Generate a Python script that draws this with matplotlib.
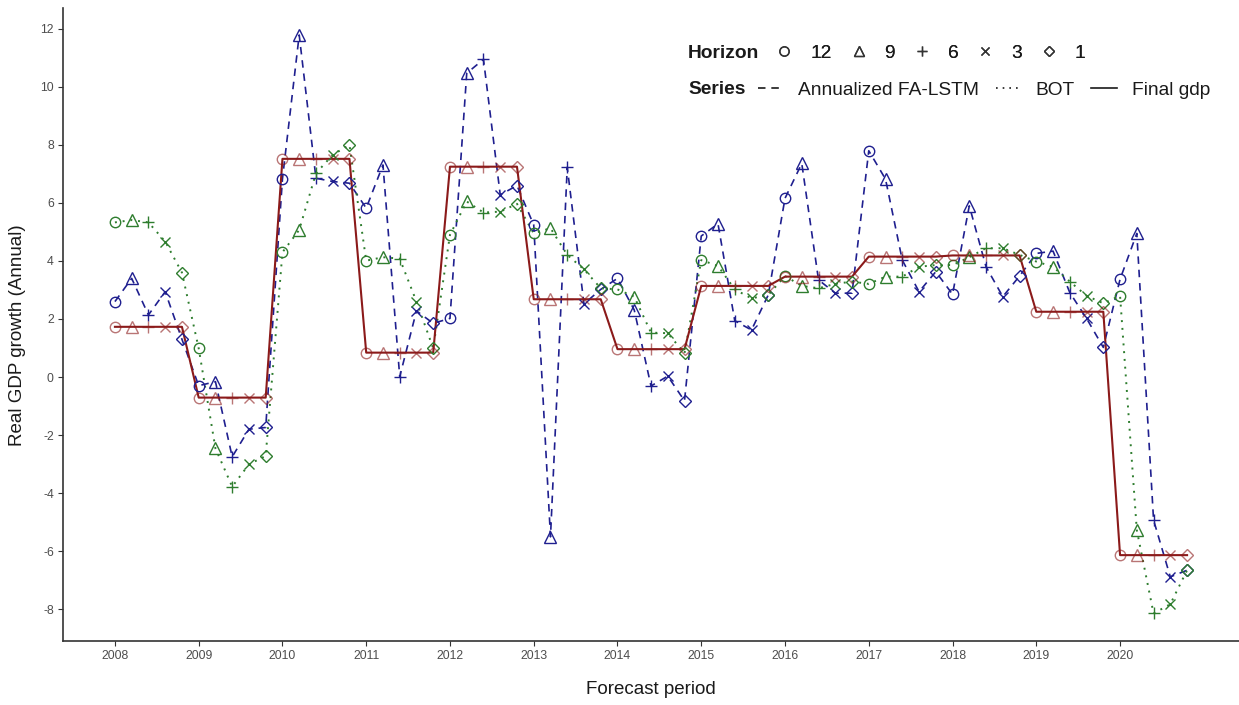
import matplotlib.pyplot as plt
from matplotlib.lines import Line2D
import numpy as np

W, H, DPI = 1239, 705, 100
FONT = 'Liberation Sans'
FONTSIZE_TEXT = 13.5
FONTSIZE_LEGEND = 13.8
FONTSIZE_TICKS = 8.8

plt.rcParams['font.family'] = [FONT, 'DejaVu Sans']
plt.rcParams['axes.unicode_minus'] = False

# forecast years, 5 horizons per year (12, 9, 6, 3, 1 months ahead)
years = list(range(2008, 2021))
horizons = [12, 9, 6, 3, 1]
horizon_step = [0.0, 0.2, 0.4, 0.6, 0.8]
horizon_markers = ['o', '^', '+', 'x', 'D']
marker_sizes = {'o': 7.5, '^': 8.5, '+': 8.5, 'x': 7.0, 'D': 6.3}

fa_lstm = [
    2.60, 3.40, 2.14, 2.94, 1.30,
    -0.30, -0.16, -2.75, -1.80, -1.74,
    6.83, 11.79, 6.85, 6.74, 6.68,
    5.82, 7.31, 0.01, 2.28, 1.85,
    2.02, 10.47, 10.95, 6.28, 6.60,
    5.24, -5.51, 7.23, 2.52, 3.02,
    3.40, 2.31, -0.31, 0.03, -0.82,
    4.86, 5.28, 1.94, 1.62, 2.83,
    6.16, 7.36, 3.35, 2.89, 2.89,
    7.80, 6.82, 4.03, 2.94, 3.63,
    2.85, 5.90, 3.80, 2.77, 3.48,
    4.26, 4.34, 2.91, 2.02, 1.02,
    3.37, 4.95, -4.93, -6.89, -6.66,
]

bot = [
    5.33, 5.41, 5.33, 4.67, 3.60,
    0.99, -2.46, -3.78, -3.01, -2.72,
    4.30, 5.07, 7.02, 7.66, 8.00,
    4.01, 4.13, 4.08, 2.60, 0.99,
    4.90, 6.05, 5.67, 5.70, 5.97,
    4.95, 5.13, 4.21, 3.71, 3.06,
    3.02, 2.77, 1.53, 1.51, 0.82,
    4.03, 3.83, 3.02, 2.71, 2.83,
    3.48, 3.14, 3.06, 3.21, 3.29,
    3.21, 3.46, 3.46, 3.80, 3.86,
    3.86, 4.13, 4.44, 4.44, 4.21,
    3.98, 3.80, 3.29, 2.80, 2.54,
    2.80, -5.28, -8.15, -7.83, -6.66,
]

# annual final gdp, same value for all horizons of a year
final_gdp_annual = [1.73, -0.71, 7.52, 0.84, 7.25, 2.68, 0.96, 3.14, 3.46, 4.15, 4.19, 2.25, -6.14]

period = np.repeat(years, len(horizons)) + np.tile(horizon_step, len(years))
final_gdp = np.repeat(final_gdp_annual, len(horizons))

series = [
    ('Annualized FA-LSTM', fa_lstm, '#1f1f8f', (0, (4.5, 3.5)), 1.2, 1.0),
    ('BOT', bot, '#2e7d2e', (0, (1, 3)), 1.4, 1.0),
    ('Final gdp', final_gdp, '#8b1a1a', '-', 1.5, 0.6),
]

fig = plt.figure(figsize=(W / DPI, H / DPI), dpi=DPI)
ax = fig.add_axes([63 / W, (H - 641) / H, 1 - 63 / W, (641 - 8) / H])

for name, values, color, ls, lw, m_alpha in series:
    values = np.asarray(values)
    ax.plot(period, values, linestyle=ls, linewidth=lw, color=color, zorder=2)
    for j, m in enumerate(horizon_markers):
        idx = np.arange(j, len(period), len(horizons))
        ax.plot(period[idx], values[idx], linestyle='none', marker=m, markersize=marker_sizes[m],
                markerfacecolor='none', markeredgecolor=color, markeredgewidth=1.0,
                alpha=m_alpha, zorder=3)

ax.set_xlim(2007.38, 2021.42)
ax.set_ylim(-9.1, 12.72)
ax.set_xticks(years)
ax.set_yticks(np.arange(-8, 13, 2))

for s in ['top', 'right']:
    ax.spines[s].set_visible(False)
for s in ['left', 'bottom']:
    ax.spines[s].set_linewidth(1.2)
    ax.spines[s].set_color('#333333')
ax.tick_params(axis='both', length=3.6, width=0.8, color='#333333',
               labelsize=FONTSIZE_TICKS, labelcolor='#4d4d4d', pad=3)

ax.set_xlabel('Forecast period', fontsize=FONTSIZE_TEXT, color='#1a1a1a', va='center')
ax.xaxis.set_label_coords((651 - 63) / (W - 63), -(690 - 641) / 633)
ax.set_ylabel('Real GDP growth (Annual)', fontsize=FONTSIZE_TEXT, color='#1a1a1a', va='center')
ax.yaxis.set_label_coords(-(63 - 18) / (W - 63), (641 - 335) / 633)

# legend: horizon row
fig.text(688 / W, 1 - 53 / H, 'Horizon', fontsize=FONTSIZE_LEGEND, fontweight='bold',
         color='#1a1a1a', va='center', ha='left')
h_handles = [Line2D([], [], linestyle='none', marker=m, markersize=marker_sizes[m] - 0.8,
                    markerfacecolor='none', markeredgecolor='#333333', markeredgewidth=1.0)
             for m in horizon_markers]
leg1 = fig.legend(h_handles, [str(h) for h in horizons], ncol=5, loc='center left',
                  bbox_to_anchor=(772 / W, 1 - 53 / H), frameon=False, borderpad=0,
                  borderaxespad=0, handlelength=1.3, handletextpad=0.7,
                  columnspacing=0.75, fontsize=FONTSIZE_LEGEND, labelcolor='#1a1a1a')

# legend: series row
fig.text(688 / W, 1 - 90 / H, 'Series', fontsize=FONTSIZE_LEGEND, fontweight='bold',
         color='#1a1a1a', va='center', ha='left')
s_handles = [Line2D([], [], linestyle=ls, linewidth=1.2, color='#1a1a1a')
             for _, _, _, ls, _, _ in series]
leg2 = fig.legend(s_handles, [s[0] for s in series], ncol=3, loc='center left',
                  bbox_to_anchor=(758 / W, 1 - 90 / H), frameon=False, borderpad=0,
                  borderaxespad=0, handlelength=1.35, handletextpad=0.75,
                  columnspacing=0.85, fontsize=FONTSIZE_LEGEND, labelcolor='#1a1a1a')
fig.add_artist(leg1)

fig.savefig('out.png', dpi=DPI)
